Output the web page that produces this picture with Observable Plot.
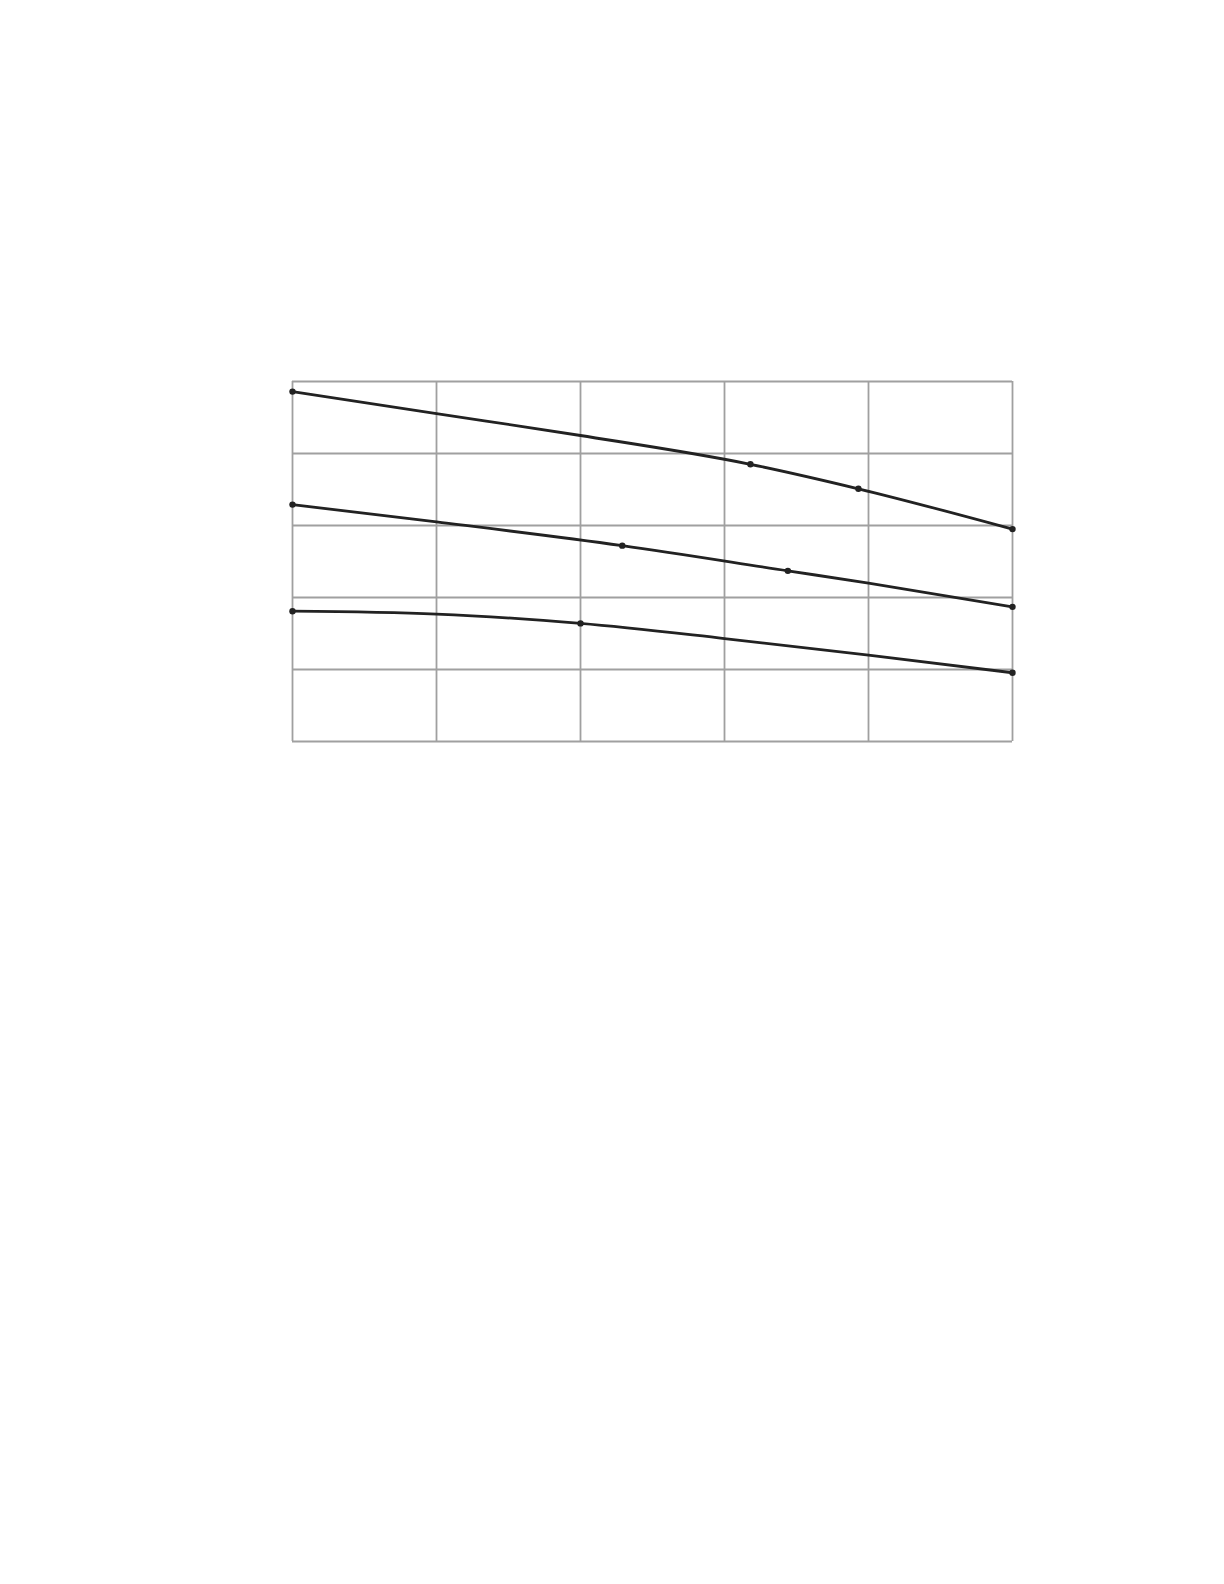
<!DOCTYPE html>
<html>
<head>
<meta charset="utf-8">
<script src="https://cdn.jsdelivr.net/npm/d3@7"></script>
<script src="https://cdn.jsdelivr.net/npm/@observablehq/plot@0.6"></script>
<style>
  html, body { margin: 0; padding: 0; background: #fff; overflow: hidden; }
  #chart svg { display: block; }
</style>
</head>
<body>
<div id="chart"></div>
<script>
// Grid tick positions (unlabelled in the reference)
const xTicks = [0, 1, 2, 3, 4, 5];
const yTicks = [0, 1, 2, 3, 4, 5];

// Curves (grid units)
const topLineX = [0, 1, 2, 3.18, 3.93, 5];
const topLineY = [4.86, 4.555, 4.25, 3.85, 3.51, 2.95];
const midLineX = [0, 1, 2.29, 3.44, 4, 5];
const midLineY = [3.29, 3.05, 2.72, 2.37, 2.20, 1.87];
const lowLineX = [0, 1, 2, 3, 4, 5];
const lowLineY = [1.81, 1.77, 1.64, 1.43, 1.20, 0.955];

// Marked points on each curve
const topDotX = [0, 3.18, 3.93, 5];
const topDotY = [4.86, 3.85, 3.51, 2.95];
const midDotX = [0, 2.29, 3.44, 5];
const midDotY = [3.29, 2.72, 2.37, 1.87];
const lowDotX = [0, 2, 5];
const lowDotY = [1.81, 1.64, 0.955];

const toRows = (name, xs, ys) => xs.map((x, i) => ({series: name, x, y: ys[i]}));
const lines = [
  ...toRows("top", topLineX, topLineY),
  ...toRows("mid", midLineX, midLineY),
  ...toRows("low", lowLineX, lowLineY)
];
const dots = [
  ...toRows("top", topDotX, topDotY),
  ...toRows("mid", midDotX, midDotY),
  ...toRows("low", lowDotX, lowDotY)
];

const chart = Plot.plot({
  width: 1224,
  height: 900,
  marginLeft: 292,
  marginRight: 212,
  marginTop: 381,
  marginBottom: 159,
  x: {domain: [0, 5], axis: null},
  y: {domain: [0, 5], axis: null},
  marks: [
    Plot.ruleX(xTicks, {stroke: "#a0a0a0", strokeWidth: 1.8, strokeOpacity: 1}),
    Plot.ruleY(yTicks, {stroke: "#a0a0a0", strokeWidth: 1.8, strokeOpacity: 1}),
    Plot.line(lines, {x: "x", y: "y", z: "series", curve: "monotone-x", stroke: "#222", strokeWidth: 2.8}),
    Plot.dot(dots, {x: "x", y: "y", r: 3.2, fill: "#222", stroke: "none"})
  ]
});
document.getElementById("chart").appendChild(chart);
</script>
</body>
</html>
